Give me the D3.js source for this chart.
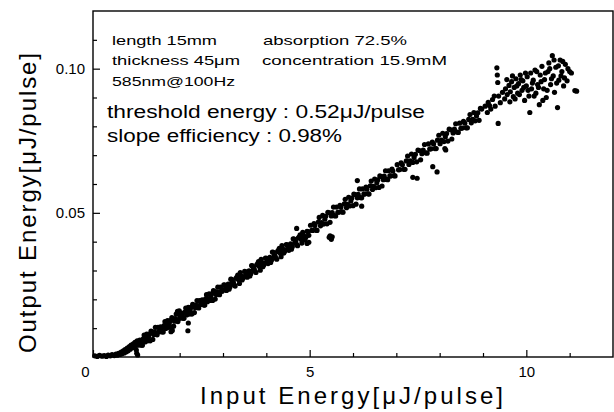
<!DOCTYPE html>
<html>
<head>
<meta charset="utf-8">
<script src="https://cdn.jsdelivr.net/npm/d3@7"></script>
<style>
  html, body { margin: 0; padding: 0; background: #fff; }
  svg { display: block; font-family: "Liberation Sans", Arial, sans-serif; }
</style>
</head>
<body>
<svg id="chart" width="614" height="412"></svg>
<script>
// Measured [input energy, output energy] pairs (µJ/pulse), grouped by input range

// below and around threshold
const nearThreshold = [
  [0.04,0.0004],[0.10,0.0002],[0.15,0.0006],[0.21,0.0003],[0.26,0.0005],[0.31,0.0002],[0.35,0.0007],[0.40,0.0004],
  [0.44,0.0008],[0.49,0.0005],[0.53,0.0010],[0.56,0.0006],[0.59,0.0013],[0.62,0.0009],[0.65,0.0017],[0.67,0.0011],
  [0.70,0.0021],[0.72,0.0014],[0.74,0.0026],[0.77,0.0018],[0.79,0.0031],[0.81,0.0022],[0.84,0.0036],[0.86,0.0027],
  [0.88,0.0041],[0.91,0.0032],[0.93,0.0046],[0.95,0.0036],[0.97,0.0051],[0.99,0.0040],[1.01,0.0013],[1.03,0.0007],[1.00,0.0024]
];

// 1 – 3 µJ/pulse
const range1to3 = [
  [1.02,0.0056],[1.06,0.0042],[1.10,0.0054],[1.14,0.0041],[1.18,0.0076],[1.22,0.0062],[1.26,0.0056],[1.30,0.0079],
  [1.34,0.0090],[1.38,0.0061],[1.42,0.0087],[1.46,0.0079],[1.50,0.0103],[1.54,0.0088],[1.58,0.0100],[1.62,0.0087],
  [1.66,0.0123],[1.70,0.0109],[1.74,0.0103],[1.78,0.0126],[1.82,0.0137],[1.86,0.0107],[1.90,0.0133],[1.94,0.0125],
  [1.98,0.0149],[2.02,0.0135],[2.06,0.0147],[2.10,0.0134],[2.14,0.0170],[2.18,0.0155],[2.22,0.0149],[2.26,0.0172],
  [2.30,0.0183],[2.34,0.0154],[2.38,0.0180],[2.42,0.0172],[2.46,0.0196],[2.50,0.0182],[2.54,0.0193],[2.58,0.0180],
  [2.62,0.0216],[2.66,0.0202],[2.70,0.0196],[2.74,0.0219],[2.78,0.0230],[2.82,0.0201],[2.86,0.0226],[2.90,0.0218],
  [2.94,0.0242],[2.98,0.0228],
  [1.04,0.0042],[1.08,0.0059],[1.12,0.0041],[1.16,0.0063],[1.20,0.0052],[1.24,0.0079],[1.28,0.0069],[1.32,0.0056],
  [1.36,0.0087],[1.40,0.0078],[1.44,0.0103],[1.48,0.0077],[1.52,0.0088],[1.56,0.0105],[1.60,0.0087],[1.64,0.0109],
  [1.68,0.0099],[1.72,0.0126],[1.76,0.0116],[1.80,0.0103],[1.84,0.0133],[1.88,0.0124],[1.92,0.0149],[1.96,0.0123],
  [2.00,0.0135],[2.04,0.0152],[2.08,0.0134],[2.12,0.0156],[2.16,0.0146],[2.20,0.0172],[2.24,0.0162],[2.28,0.0149],
  [2.32,0.0180],[2.36,0.0171],[2.40,0.0196],[2.44,0.0170],[2.48,0.0182],[2.52,0.0198],[2.56,0.0180],[2.60,0.0202],
  [2.64,0.0192],[2.68,0.0219],[2.72,0.0209],[2.76,0.0196],[2.80,0.0227],[2.84,0.0217],[2.88,0.0242],[2.92,0.0216],
  [2.96,0.0228],
  [2.20,0.0118],[2.19,0.0091],[1.80,0.0088],[1.83,0.0092],[1.95,0.0158],[1.99,0.0160]
];

// 3 – 5 µJ/pulse
const range3to5 = [
  [3.02,0.0250],[3.06,0.0236],[3.10,0.0248],[3.14,0.0235],[3.18,0.0270],[3.22,0.0256],[3.26,0.0250],[3.30,0.0273],
  [3.34,0.0284],[3.38,0.0255],[3.42,0.0281],[3.46,0.0273],[3.50,0.0297],[3.54,0.0282],[3.58,0.0294],[3.62,0.0281],
  [3.66,0.0317],[3.70,0.0303],[3.74,0.0297],[3.78,0.0320],[3.82,0.0331],[3.86,0.0301],[3.90,0.0327],[3.94,0.0319],
  [3.98,0.0343],[4.02,0.0329],[4.06,0.0341],[4.10,0.0328],[4.14,0.0364],[4.18,0.0349],[4.22,0.0343],[4.26,0.0366],
  [4.30,0.0377],[4.34,0.0348],[4.38,0.0374],[4.42,0.0366],[4.46,0.0390],[4.50,0.0376],[4.54,0.0387],[4.58,0.0374],
  [4.62,0.0410],[4.66,0.0396],[4.70,0.0390],[4.74,0.0413],[4.78,0.0424],[4.82,0.0395],[4.86,0.0420],[4.90,0.0412],
  [4.94,0.0436],[4.98,0.0422],
  [3.00,0.0232],[3.04,0.0249],[3.08,0.0231],[3.12,0.0253],[3.16,0.0243],[3.20,0.0269],[3.24,0.0259],[3.28,0.0246],
  [3.32,0.0277],[3.36,0.0268],[3.40,0.0293],[3.44,0.0267],[3.48,0.0279],[3.52,0.0295],[3.56,0.0277],[3.60,0.0299],
  [3.64,0.0289],[3.68,0.0316],[3.72,0.0306],[3.76,0.0293],[3.80,0.0324],[3.84,0.0314],[3.88,0.0339],[3.92,0.0313],
  [3.96,0.0325],[4.00,0.0342],[4.04,0.0324],[4.08,0.0346],[4.12,0.0336],[4.16,0.0363],[4.20,0.0352],[4.24,0.0339],
  [4.28,0.0370],[4.32,0.0361],[4.36,0.0386],[4.40,0.0360],[4.44,0.0372],[4.48,0.0389],[4.52,0.0370],[4.56,0.0392],
  [4.60,0.0382],[4.64,0.0409],[4.68,0.0399],[4.72,0.0386],[4.76,0.0417],[4.80,0.0408],[4.84,0.0432],[4.88,0.0406],
  [4.92,0.0418],[4.96,0.0435],
  [4.70,0.0446],[4.94,0.0394],[4.98,0.0398]
];

// 5 – 7 µJ/pulse
const range5to7 = [
  [5.02,0.0457],[5.07,0.0439],[5.12,0.0456],[5.17,0.0439],[5.22,0.0484],[5.27,0.0466],[5.32,0.0461],[5.37,0.0488],
  [5.42,0.0502],[5.47,0.0467],[5.52,0.0501],[5.57,0.0490],[5.62,0.0520],[5.67,0.0502],[5.72,0.0519],[5.77,0.0502],
  [5.82,0.0547],[5.87,0.0529],[5.92,0.0524],[5.97,0.0551],[6.02,0.0565],[6.07,0.0530],[6.12,0.0564],[6.17,0.0553],
  [6.22,0.0583],[6.27,0.0565],[6.32,0.0582],[6.37,0.0565],[6.42,0.0610],[6.47,0.0592],[6.52,0.0587],[6.57,0.0614],
  [6.62,0.0628],[6.67,0.0593],[6.72,0.0627],[6.77,0.0616],[6.82,0.0646],[6.87,0.0628],[6.92,0.0645],[6.97,0.0628],
  [5.05,0.0439],[5.10,0.0463],[5.15,0.0440],[5.20,0.0468],[5.25,0.0455],[5.30,0.0491],[5.35,0.0478],[5.40,0.0462],
  [5.45,0.0500],[5.50,0.0489],[5.55,0.0520],[5.60,0.0489],[5.65,0.0502],[5.70,0.0526],[5.75,0.0503],[5.80,0.0531],
  [5.85,0.0518],[5.90,0.0554],[5.95,0.0541],[6.00,0.0525],[6.05,0.0563],[6.10,0.0552],[6.15,0.0583],[6.20,0.0552],
  [6.25,0.0565],[6.30,0.0589],[6.35,0.0566],[6.40,0.0594],[6.45,0.0581],[6.50,0.0617],[6.55,0.0604],[6.60,0.0588],
  [6.65,0.0626],[6.70,0.0615],[6.75,0.0646],[6.80,0.0615],[6.85,0.0628],[6.90,0.0652],[6.95,0.0629],
  [5.45,0.0415],[5.50,0.0408],[5.47,0.0420],[5.52,0.0417],[6.10,0.0612],[6.20,0.0523]
];

// 7 – 9 µJ/pulse
const range7to9 = [
  [7.02,0.0667],[7.08,0.0650],[7.14,0.0667],[7.20,0.0651],[7.26,0.0697],[7.32,0.0680],[7.38,0.0675],[7.44,0.0703],
  [7.50,0.0718],[7.56,0.0684],[7.62,0.0718],[7.68,0.0708],[7.74,0.0739],[7.80,0.0722],[7.86,0.0739],[7.92,0.0723],
  [7.98,0.0769],[8.04,0.0752],[8.10,0.0747],[8.16,0.0775],[8.22,0.0790],[8.28,0.0756],[8.34,0.0790],[8.40,0.0780],
  [8.46,0.0811],[8.52,0.0794],[8.58,0.0811],[8.64,0.0795],[8.70,0.0841],[8.76,0.0824],[8.82,0.0819],[8.88,0.0847],
  [8.94,0.0862],
  [7.05,0.0649],[7.11,0.0673],[7.17,0.0651],[7.23,0.0680],[7.29,0.0668],[7.35,0.0704],[7.41,0.0692],[7.47,0.0677],
  [7.53,0.0716],[7.59,0.0705],[7.65,0.0737],[7.71,0.0707],[7.77,0.0721],[7.83,0.0745],[7.89,0.0723],[7.95,0.0752],
  [8.01,0.0740],[8.07,0.0776],[8.13,0.0764],[8.19,0.0749],[8.25,0.0788],[8.31,0.0777],[8.37,0.0809],[8.43,0.0779],
  [8.49,0.0793],[8.55,0.0817],[8.61,0.0795],[8.67,0.0824],[8.73,0.0812],[8.79,0.0848],[8.85,0.0836],[8.91,0.0821],
  [8.97,0.0860],
  [7.38,0.0623],[7.48,0.0620],[7.84,0.0660],[7.94,0.0642],[8.12,0.0723],[8.14,0.0718]
];

// 9 – 11.2 µJ/pulse
const range9to11 = [
  [9.05,0.0870],[9.10,0.0848],[9.12,0.0883],[9.18,0.0860],[9.22,0.0893],[9.28,0.0870],[9.32,0.1003],[9.33,0.0978],
  [9.34,0.0952],[9.35,0.0810],[9.36,0.0905],[9.40,0.0882],[9.45,0.0918],[9.50,0.0895],[9.52,0.0930],[9.56,0.0910],
  [9.60,0.0942],[9.63,0.0920],[9.66,0.0955],[9.70,0.0903],[9.72,0.0935],[9.76,0.0965],[9.80,0.0915],[9.82,0.0948],
  [9.86,0.0978],[9.90,0.0925],[9.92,0.0958],[9.96,0.0890],
  [10.00,0.0940],[10.02,0.0972],[10.06,0.0905],[10.08,0.0848],[10.10,0.0985],[10.12,0.0930],[10.16,0.0960],[10.20,0.0995],
  [10.22,0.0915],[10.26,0.0945],[10.30,0.0875],[10.32,0.0978],[10.36,0.1008],[10.40,0.0930],[10.42,0.0962],[10.46,0.0900],
  [10.50,0.0990],[10.52,0.1020],[10.56,0.0945],[10.60,0.1045],[10.62,0.0975],[10.65,0.0918],[10.68,0.1005],[10.72,0.0865],
  [10.75,0.0960],[10.78,0.1030],[10.82,0.0990],[10.86,0.0940],[10.90,0.1015],[10.94,0.0958],[11.00,0.0990],[11.12,0.0924],
  [11.16,0.0922],
  [9.55,0.0962],[9.62,0.0885],[9.68,0.0975],[9.74,0.0895],[9.78,0.0940],[9.84,0.0910],[9.88,0.0962],[9.94,0.0935],
  [9.98,0.0985],[10.04,0.0925],[10.14,0.0950],[10.18,0.0905],[10.24,0.0990],[10.28,0.0935],[10.34,0.0955],[10.38,0.0890],
  [10.44,0.0985],[10.48,0.0925],[10.54,0.1000],[10.58,0.0965],[10.64,0.1030],[10.70,0.0950],[10.74,0.1010],[10.80,0.0975],
  [10.84,0.1025],[10.88,0.0968],[10.96,0.1000],[11.04,0.0985],[9.26,0.0905],[9.15,0.0872]
];

const xMajorTicks = [0, 5, 10];
const xMinorTicks = [1, 2, 3, 4, 6, 7, 8, 9, 11];
const yMajorTicks = [0.05, 0.10];
const yMinorTicks = [0.01, 0.02, 0.03, 0.04, 0.06, 0.07, 0.08, 0.09, 0.11];

const xTitle = "Input Energy[\u03bcJ/pulse]";
const yTitle = "Output Energy[\u03bcJ/pulse]";
const infoLines = [
  "length 15mm", "absorption 72.5%",
  "thickness 45\u03bcm", "concentration  15.9mM",
  "585nm@100Hz"
];
const resultLines = [
  "threshold energy : 0.52\u03bcJ/pulse",
  "slope efficiency : 0.98%"
];

const measurements = [].concat(nearThreshold, range1to3, range3to5, range5to7, range7to9, range9to11);

const svg = d3.select("#chart");
const plotLeft = 93, plotRight = 613, plotTop = 11, plotBottom = 357;

const x = d3.scaleLinear().domain([0, 12]).range([plotLeft, plotRight]);
const y = d3.scaleLinear().domain([0, 0.12]).range([plotBottom, plotTop]);

// frame
svg.append("rect")
  .attr("x", plotLeft).attr("y", plotTop)
  .attr("width", plotRight - plotLeft).attr("height", plotBottom - plotTop)
  .attr("fill", "none").attr("stroke", "#000").attr("stroke-width", 1.4);

// axes with inward ticks
const gx = svg.append("g").attr("transform", `translate(0,${plotBottom})`)
  .call(d3.axisBottom(x).tickValues(xMajorTicks).tickSizeInner(-7).tickSizeOuter(0)
    .tickPadding(9).tickFormat(d3.format("d")));
const gxm = svg.append("g").attr("transform", `translate(0,${plotBottom})`)
  .call(d3.axisBottom(x).tickValues(xMinorTicks).tickSizeInner(-4).tickSizeOuter(0).tickFormat(""));
const gy = svg.append("g").attr("transform", `translate(${plotLeft},0)`)
  .call(d3.axisLeft(y).tickValues(yMajorTicks).tickSizeInner(-7).tickSizeOuter(0)
    .tickPadding(8).tickFormat(d3.format(".2f")));
const gym = svg.append("g").attr("transform", `translate(${plotLeft},0)`)
  .call(d3.axisLeft(y).tickValues(yMinorTicks).tickSizeInner(-4).tickSizeOuter(0).tickFormat(""));

[gx, gxm, gy, gym].forEach(g => {
  g.select(".domain").remove();
  g.selectAll(".tick line").attr("stroke", "#000").attr("stroke-width", 1.2);
  g.selectAll(".tick text").attr("fill", "#000").attr("font-size", 15)
    .attr("font-family", "'Liberation Sans', Arial, sans-serif");
});
gx.selectAll(".tick text").filter(d => d === 0).attr("dx", -8);

// data points
svg.append("g").selectAll("circle")
  .data(measurements)
  .join("circle")
  .attr("cx", d => x(d[0]))
  .attr("cy", d => y(d[1]))
  .attr("r", 2.6)
  .attr("fill", "#000");

// axis titles
svg.append("text")
  .attr("x", 200).attr("y", 404)
  .attr("font-size", 24)
  .attr("textLength", 303).attr("lengthAdjust", "spacing")
  .text(xTitle);
svg.append("text")
  .attr("transform", "translate(36,353) rotate(-90)")
  .attr("font-size", 24)
  .attr("textLength", 300).attr("lengthAdjust", "spacing")
  .text(yTitle);

// annotation block
const infoPos = [
  [112, 45, 105], [263, 45, 144],
  [112, 65, 128], [262, 65, 185],
  [112, 86, 123]
];
infoLines.forEach((t, i) => {
  svg.append("text")
    .attr("x", infoPos[i][0]).attr("y", infoPos[i][1])
    .attr("font-size", 13.5)
    .attr("textLength", infoPos[i][2]).attr("lengthAdjust", "spacingAndGlyphs")
    .text(t);
});
const resultPos = [[107, 118, 318], [107, 142, 235]];
resultLines.forEach((t, i) => {
  svg.append("text")
    .attr("x", resultPos[i][0]).attr("y", resultPos[i][1])
    .attr("font-size", 18)
    .attr("textLength", resultPos[i][2]).attr("lengthAdjust", "spacingAndGlyphs")
    .text(t);
});
</script>
</body>
</html>
